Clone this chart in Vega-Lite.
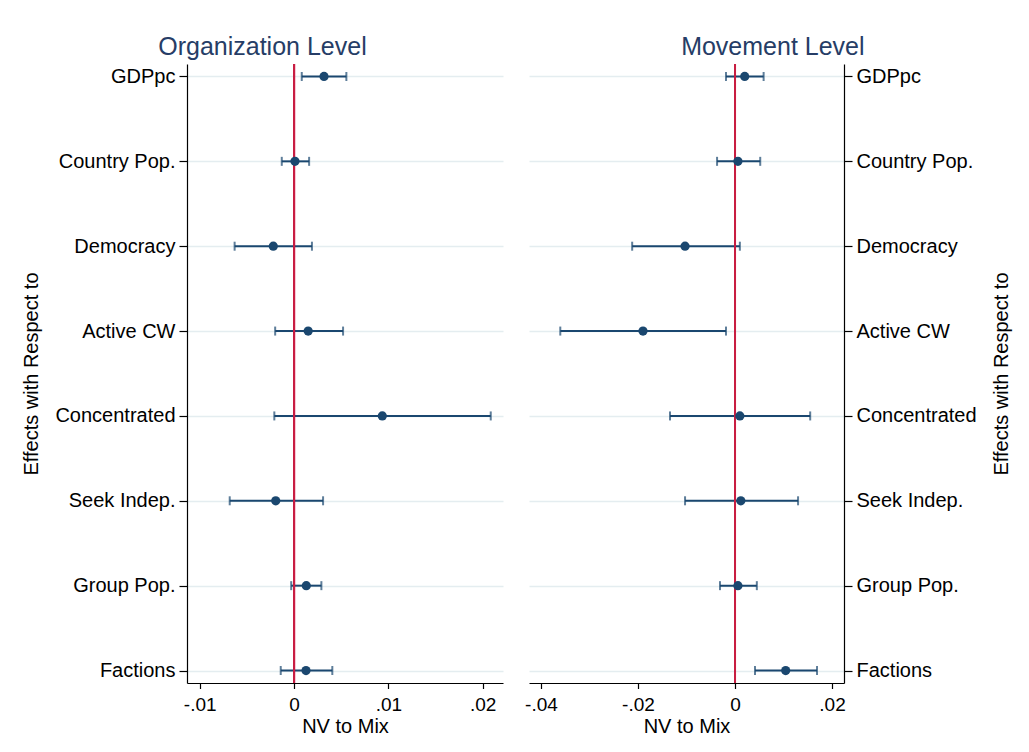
{
  "$schema": "https://vega.github.io/schema/vega-lite/v6.json",
  "background": "white",
  "padding": {"left": 21, "top": 35, "right": 5, "bottom": 5},
  "config": {
    "font": "Liberation Sans",
    "view": {"stroke": null},
    "axis": {
      "domainColor": "black", "tickColor": "black", "labelColor": "black", "titleColor": "black",
      "titleFontWeight": "normal", "labelFontSize": 20, "titleFontSize": 20, "domainWidth": 1.2, "tickWidth": 1.2
    },
    "title": {"fontSize": 25, "fontWeight": "normal", "color": "#263d66", "baseline": "alphabetic", "offset": 3, "frame": "bounds"}
  },
  "spacing": 21,
  "datasets": {
    "org": [
      {"variable": "GDPpc", "est": 0.00318, "lo": 0.00082, "hi": 0.00555},
      {"variable": "Country Pop.", "est": 0.0001, "lo": -0.0013, "hi": 0.0016},
      {"variable": "Democracy", "est": -0.0022, "lo": -0.0063, "hi": 0.0019},
      {"variable": "Active CW", "est": 0.0015, "lo": -0.002, "hi": 0.0052},
      {"variable": "Concentrated", "est": 0.00936, "lo": -0.00209, "hi": 0.02086},
      {"variable": "Seek Indep.", "est": -0.00194, "lo": -0.00682, "hi": 0.00308},
      {"variable": "Group Pop.", "est": 0.0013, "lo": -0.0003, "hi": 0.0029},
      {"variable": "Factions", "est": 0.00127, "lo": -0.00141, "hi": 0.00406}
    ],
    "mov": [
      {"variable": "GDPpc", "est": 0.002, "lo": -0.00186, "hi": 0.0059},
      {"variable": "Country Pop.", "est": 0.0006, "lo": -0.0037, "hi": 0.0052},
      {"variable": "Democracy", "est": -0.0103, "lo": -0.0212, "hi": 0.001},
      {"variable": "Active CW", "est": -0.01897, "lo": -0.03602, "hi": -0.00186},
      {"variable": "Concentrated", "est": 0.001, "lo": -0.0134, "hi": 0.0155},
      {"variable": "Seek Indep.", "est": 0.0012, "lo": -0.0103, "hi": 0.013},
      {"variable": "Group Pop.", "est": 0.0006, "lo": -0.0031, "hi": 0.0045},
      {"variable": "Factions", "est": 0.01045, "lo": 0.00412, "hi": 0.01691}
    ]
  },
  "hconcat": [
    {
      "title": {"text": "Organization Level"},
      "width": 316,
      "height": 619,
      "data": {"name": "org"},
      "layer": [
        {
          "mark": {"type": "errorbar", "ticks": {"size": 9}, "thickness": 2, "color": "#1a476f"},
          "encoding": {
            "x": {"field": "lo", "type": "quantitative", "title": "NV to Mix",
              "scale": {"domain": [-0.01135, 0.02216], "nice": false, "zero": false},
              "axis": {"values": [-0.01, 0, 0.01, 0.02], "grid": false, "tickSize": 5.5, "labelPadding": 7, "titlePadding": 2, "labelFontSize": 19,
                "labelExpr": "datum.value == 0 ? '0' : (datum.value < 0 ? '-' : '') + replace(format(abs(datum.value), '.2f'), '0.', '.')"}},
            "x2": {"field": "hi"},
            "y": {"field": "variable", "type": "nominal",
              "sort": ["GDPpc", "Country Pop.", "Democracy", "Active CW", "Concentrated", "Seek Indep.", "Group Pop.", "Factions"],
              "scale": {"type": "point", "padding": 0.147},
              "axis": {"orient": "left", "title": "Effects with Respect to", "tickSize": 8, "labelPadding": 4, "titlePadding": 13,
                "grid": true, "gridColor": "#e4edf0", "gridWidth": 1.5}}
          }
        },
        {
          "mark": {"type": "rule", "color": "#c81e42", "strokeWidth": 2},
          "encoding": {"x": {"datum": 0, "type": "quantitative"}}
        },
        {
          "mark": {"type": "point", "filled": true, "size": 85, "color": "#1a476f", "opacity": 1},
          "encoding": {
            "x": {"field": "est", "type": "quantitative"},
            "y": {"field": "variable", "type": "nominal",
              "sort": ["GDPpc", "Country Pop.", "Democracy", "Active CW", "Concentrated", "Seek Indep.", "Group Pop.", "Factions"]}
          }
        }
      ]
    },
    {
      "title": {"text": "Movement Level", "dx": 5},
      "width": 315,
      "height": 619,
      "data": {"name": "mov"},
      "layer": [
        {
          "mark": {"type": "errorbar", "ticks": {"size": 9}, "thickness": 2, "color": "#1a476f"},
          "encoding": {
            "x": {"field": "lo", "type": "quantitative", "title": "NV to Mix",
              "scale": {"domain": [-0.04247, 0.02247], "nice": false, "zero": false},
              "axis": {"values": [-0.04, -0.02, 0, 0.02], "grid": false, "tickSize": 5.5, "labelPadding": 7, "titlePadding": 2, "labelFontSize": 19,
                "labelExpr": "datum.value == 0 ? '0' : (datum.value < 0 ? '-' : '') + replace(format(abs(datum.value), '.2f'), '0.', '.')"}},
            "x2": {"field": "hi"},
            "y": {"field": "variable", "type": "nominal",
              "sort": ["GDPpc", "Country Pop.", "Democracy", "Active CW", "Concentrated", "Seek Indep.", "Group Pop.", "Factions"],
              "scale": {"type": "point", "padding": 0.147},
              "axis": {"orient": "right", "title": "Effects with Respect to", "tickSize": 8, "labelPadding": 4, "titlePadding": 15,
                "titleAngle": 270, "titleBaseline": "top",
                "grid": true, "gridColor": "#e4edf0", "gridWidth": 1.5}}
          }
        },
        {
          "mark": {"type": "rule", "color": "#c81e42", "strokeWidth": 2},
          "encoding": {"x": {"datum": 0, "type": "quantitative"}}
        },
        {
          "mark": {"type": "point", "filled": true, "size": 85, "color": "#1a476f", "opacity": 1},
          "encoding": {
            "x": {"field": "est", "type": "quantitative"},
            "y": {"field": "variable", "type": "nominal",
              "sort": ["GDPpc", "Country Pop.", "Democracy", "Active CW", "Concentrated", "Seek Indep.", "Group Pop.", "Factions"]}
          }
        }
      ]
    }
  ]
}
